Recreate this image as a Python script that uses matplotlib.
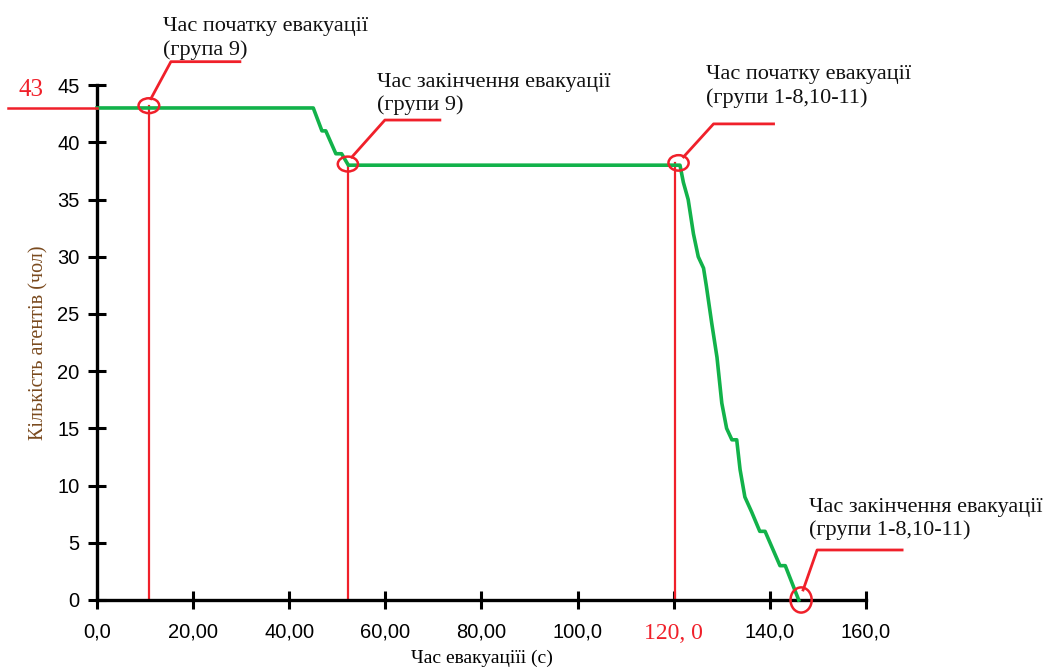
import matplotlib
matplotlib.use("Agg")
import matplotlib.pyplot as plt
import matplotlib.transforms as mtransforms
from matplotlib.patches import Ellipse

# evacuation curve: time (s) vs agents left in the building
time_s = [0.0, 45.0, 46.8, 47.6, 49.7, 50.9, 52.3, 121.3, 122.0, 123.0, 124.1,
          125.1, 126.2, 126.8, 127.9, 129.0, 130.0, 131.0, 132.1, 133.1, 133.8,
          134.8, 136.2, 137.9, 139.0, 142.1, 143.2, 146.0]
agents = [43, 43, 41, 41, 39, 39, 38, 38, 36.5, 35, 32, 30, 29, 27.4, 24.2,
          21.2, 17.2, 15, 14, 14, 11.4, 9, 7.7, 6, 6, 3, 3, 0]

x_ticks = [0, 20, 40, 60, 80, 100, 120, 140, 160]
x_tick_labels = ["0,0", "20,00", "40,00", "60,00", "80,00", "100,0", "120, 0", "140,0", "160,0"]
y_ticks = [0, 5, 10, 15, 20, 25, 30, 35, 40, 45]

# marked moments: (time, agents, label)
events_t = [10.8, 52.2, 121.0, 146.5]
events_n = [43.2, 38.1, 38.2, 0.0]
events_vline = [10.8, 52.2, 120.2]
events_label = ["Час початку евакуації\n(група 9)",
                "Час закінчення евакуації\n(групи 9)",
                "Час початку евакуації\n(групи 1-8,10-11)",
                "Час закінчення евакуації\n(групи 1-8,10-11)"]
total_agents = 43

GREEN = "#12b24a"
RED = "#f0202a"
SERIF = ["Liberation Serif", "DejaVu Serif"]
TICKFONT = ["Liberation Sans", "DejaVu Sans"]

fig = plt.figure(figsize=(10.44, 6.70), dpi=100)
ax = fig.add_axes([0.0929, 0.1045, 0.7366, 0.7685])

ax.plot(time_s, agents, color=GREEN, lw=2.6, zorder=3, clip_on=False)

# red helper lines
ax.plot([-18.5, 0], [total_agents, total_agents], color=RED, lw=1.8, clip_on=False, zorder=4)
ax.text(-13.8, total_agents + 0.6, str(total_agents), color=RED, fontsize=18,
        family=SERIF, ha="center", va="bottom")
for t, n in zip(events_vline, events_n):
    ax.plot([t, t], [0, n], color=RED, lw=1.6, zorder=2, clip_on=False)

# ellipses + leaders + labels (offsets in pixels)
ell_size = [(4.3, 1.3), (4.2, 1.3), (4.2, 1.35), (4.4, 2.2)]
leaders = [[(2, 7), (22, 44), (91, 44)],
           [(4, 7), (37, 44), (92, 44)],
           [(5, 6), (35, 39), (95, 39)],
           [(2, 10), (16, 50), (101, 50)]]
text_off = [(14, 46), (29, 49), (27, 55), (8, 60)]

for t, n, lab, sz, ld, off in zip(events_t, events_n, events_label, ell_size, leaders, text_off):
    ax.add_patch(Ellipse((t, n), sz[0], sz[1], fill=False, ec=RED, lw=1.8,
                         zorder=5, clip_on=False))
    tr = mtransforms.ScaledTranslation(t, n, ax.transData)
    xs = [p[0] for p in ld]
    ys = [p[1] for p in ld]
    ax.plot(xs, ys, color=RED, lw=2.0, transform=tr, clip_on=False, zorder=5)
    ax.annotate(lab, xy=(t, n), xytext=off, textcoords="offset pixels",
                ha="left", va="bottom", fontsize=16, family=SERIF,
                color="#111111", linespacing=1.25)

ax.set_xlim(0, 160)
ax.set_ylim(0, 45)
ax.set_xticks(x_ticks)
ax.set_xticklabels(x_tick_labels)
ax.set_yticks(y_ticks)

for side in ["top", "right"]:
    ax.spines[side].set_visible(False)
for side in ["left", "bottom"]:
    ax.spines[side].set_linewidth(2.4)
ax.tick_params(direction="inout", length=13, width=2.2, labelsize=14.5)
ax.tick_params(axis="x", pad=10)
ax.tick_params(axis="y", pad=6)
for lab in ax.get_xticklabels() + ax.get_yticklabels():
    lab.set_family(TICKFONT)
red_lab = ax.get_xticklabels()[6]
red_lab.set_color(RED)
red_lab.set_family(SERIF)
red_lab.set_fontsize(17)

ax.set_xlabel("Час евакуаціїі (с)", family=SERIF, fontsize=14, labelpad=4)
ax.set_ylabel("Кількість агентів (чол)", family=SERIF, fontsize=14.5,
              color="#7a4a1e", labelpad=6)

fig.savefig("out.png", dpi=100)
